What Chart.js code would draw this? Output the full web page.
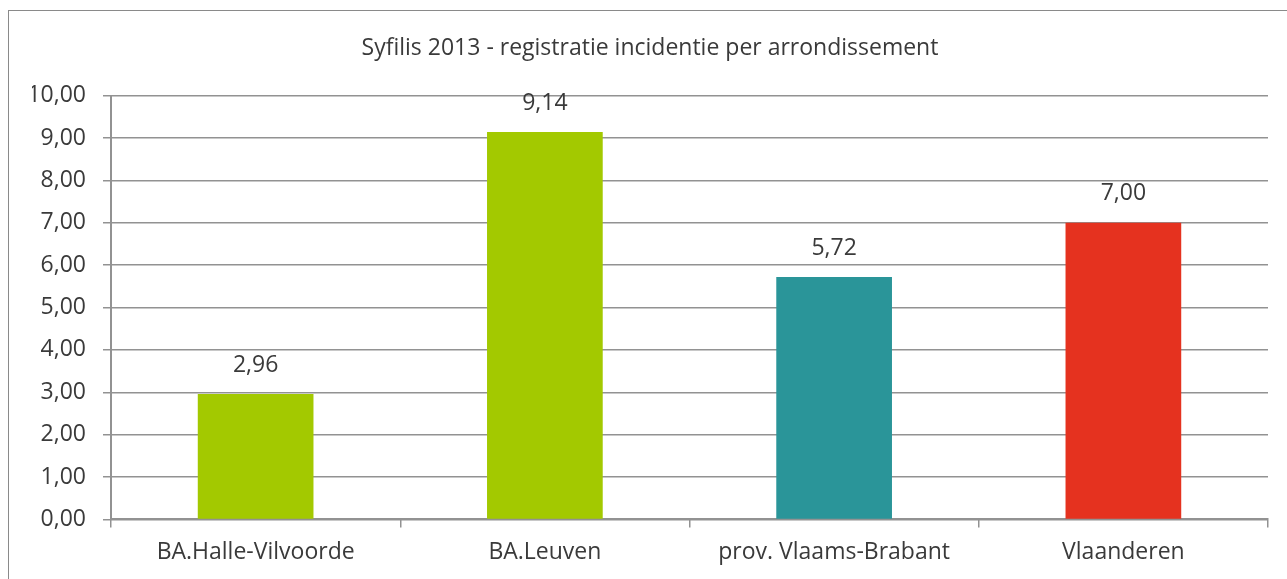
<!DOCTYPE html>
<html>
<head>
<meta charset="utf-8">
<script src="https://cdn.jsdelivr.net/npm/chart.js@4/dist/chart.umd.min.js"></script>
<style>
  html, body { margin: 0; padding: 0; background: #fff; }
  #wrap { position: relative; width: 1287px; height: 579px; overflow: hidden; }
  #frame { position: absolute; left: 8px; top: 10px; width: 1300px; height: 600px; border: 1px solid #8a8a8a; box-sizing: border-box; }
  #syfilisChart { position: absolute; left: 0; top: 0; }
</style>
</head>
<body>
<div id="wrap">
  <div id="frame"></div>
  <canvas id="syfilisChart" width="1287" height="579"></canvas>
</div>
<script>
const chartTitle = "Syfilis 2013 - registratie incidentie per arrondissement";
const regions = ["BA.Halle-Vilvoorde", "BA.Leuven", "prov. Vlaams-Brabant", "Vlaanderen"];
const incidence = [2.96, 9.14, 5.72, 7.0];
const barColors = ["#a3c900", "#a3c900", "#2a9599", "#e5321f"];

const fontFamily = "'Open Sans', sans-serif";
const fontSize = 23;
const textColor = "#3a3a3a";
const gridColor = "#929292";

const formatNumber = (v) => Number(v).toFixed(2).replace(".", ",");

// draws the value above every bar
const valueLabels = {
  id: "valueLabels",
  afterDatasetsDraw(chart) {
    const ctx = chart.ctx;
    const meta = chart.getDatasetMeta(0);
    ctx.save();
    ctx.font = fontSize + "px " + fontFamily;
    ctx.fillStyle = textColor;
    ctx.textAlign = "center";
    ctx.textBaseline = "middle";
    meta.data.forEach((bar, i) => {
      ctx.fillText(formatNumber(incidence[i]), bar.x, bar.y - 29);
    });
    ctx.restore();
  },
};

const ctx = document.getElementById("syfilisChart");
new Chart(ctx, {
  type: "bar",
  data: {
    labels: regions,
    datasets: [
      {
        label: chartTitle,
        data: incidence,
        backgroundColor: barColors,
        borderWidth: 0,
        categoryPercentage: 1,
        barPercentage: 0.4,
      },
    ],
  },
  options: {
    responsive: false,
    animation: false,
    layout: {
      padding: { top: 0, right: 19, bottom: 2, left: 32 },
    },
    plugins: {
      legend: { display: false },
      tooltip: { enabled: false },
      title: {
        display: true,
        text: chartTitle,
        color: textColor,
        font: { family: fontFamily, size: fontSize, weight: "normal" },
        padding: { top: 35, bottom: 33 },
      },
    },
    scales: {
      x: {
        grid: {
          offset: true,
          drawOnChartArea: false,
          drawTicks: true,
          tickLength: 8,
          color: gridColor,
          lineWidth: 1.5,
        },
        border: { color: gridColor, width: 2 },
        ticks: {
          color: textColor,
          padding: 11,
          font: { family: fontFamily, size: fontSize },
          maxRotation: 0,
        },
      },
      y: {
        min: 0,
        max: 10,
        afterFit(scale) {
          scale.width = 79;
        },
        grid: {
          color: gridColor,
          lineWidth: 1.5,
          tickLength: 8,
        },
        border: { color: gridColor, width: 2 },
        ticks: {
          stepSize: 1,
          color: textColor,
          padding: 17,
          font: { family: fontFamily, size: fontSize },
          callback: (value) => formatNumber(value),
        },
      },
    },
  },
  plugins: [valueLabels],
});
</script>
</body>
</html>
